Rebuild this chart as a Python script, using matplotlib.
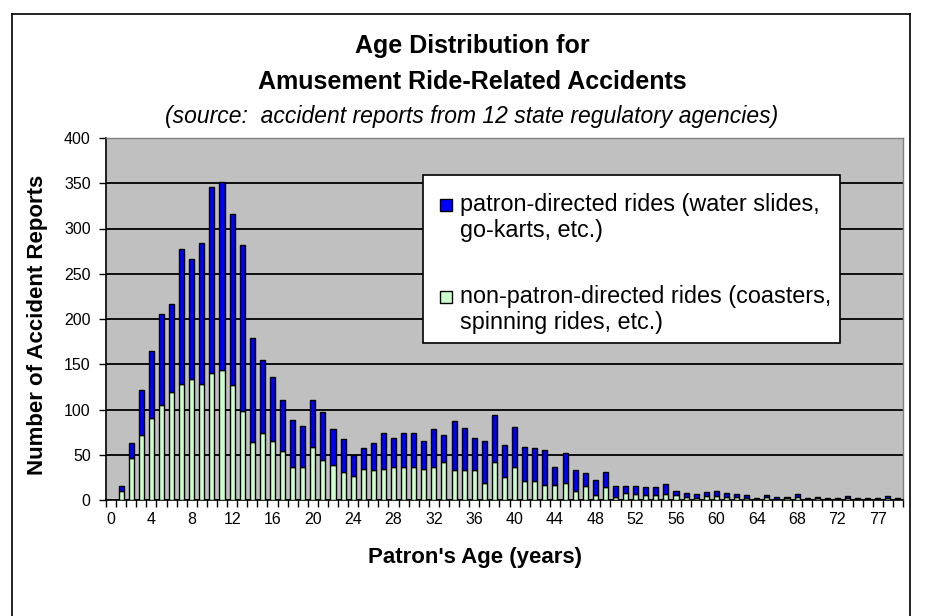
import matplotlib
matplotlib.use("Agg")
import matplotlib.pyplot as plt
from matplotlib.patches import Rectangle
from matplotlib.lines import Line2D
import numpy as np

# ---- data ----
ages = list(range(0, 75)) + [76, 77, 78, 79]
total_reports = [0, 16, 63, 121, 165, 205, 217, 277, 266, 284,
                 346, 351, 316, 282, 179, 155, 136, 110, 88, 82,
                 110, 97, 78, 67, 50, 57, 63, 74, 69, 74,
                 74, 65, 78, 72, 87, 80, 69, 65, 94, 61,
                 81, 59, 57, 55, 37, 52, 33, 30, 22, 31,
                 16, 16, 16, 14, 14, 18, 10, 8, 7, 9,
                 10, 8, 7, 5, 2, 5, 3, 3, 7, 2,
                 3, 2, 2, 4, 2, 2, 2, 4, 2]
non_patron = [0, 10, 46, 72, 91, 105, 119, 128, 134, 128,
              140, 144, 127, 98, 64, 74, 65, 54, 36, 36,
              59, 44, 39, 31, 27, 34, 33, 34, 36, 36,
              36, 34, 36, 42, 33, 33, 33, 19, 42, 25,
              36, 21, 21, 17, 17, 19, 10, 15, 6, 14,
              3, 8, 7, 5, 5, 7, 5, 3, 2, 4,
              4, 3, 3, 2, 1, 3, 1, 2, 3, 1,
              2, 1, 1, 2, 1, 1, 1, 2, 1]
patron = [t - n for t, n in zip(total_reports, non_patron)]

series_names = ["patron-directed rides (water slides,\ngo-karts, etc.)",
                "non-patron-directed rides (coasters,\nspinning rides, etc.)"]
series_colors = ["#0000FF", "#CCFFCC"]
y_ticks = [0, 50, 100, 150, 200, 250, 300, 350, 400]

plt.rcParams['font.family'] = ["Liberation Sans", "DejaVu Sans"]

W, H = 930, 616
fig = plt.figure(figsize=(W / 100, H / 100), dpi=100)
fig.patch.set_facecolor("white")

def fx(px):
    return px / W

def fy(py):
    return 1 - py / H

# outer chart border
for xs, ys in [([12, 12], [14, 700]), ([12, 910], [14, 14]), ([910, 910], [14, 700])]:
    fig.add_artist(Line2D([fx(v) for v in xs], [fy(v) for v in ys], transform=fig.transFigure,
                          color="black", lw=1.2))

left, right, top, bottom = 106, 903, 138, 500
ax = fig.add_axes([fx(left), fy(bottom), (right - left) / W, (bottom - top) / H])
ax.set_facecolor("#C0C0C0")

x = np.arange(len(ages))
bw = 0.5
ax.bar(x, non_patron, width=bw, color=series_colors[1], edgecolor="black", linewidth=1.0, zorder=3)
ax.bar(x, patron, width=bw, bottom=non_patron, color=series_colors[0], edgecolor="black",
       linewidth=1.0, zorder=3)

ax.set_xlim(-0.5, len(ages) - 0.5)
ax.set_ylim(0, 400)
ax.set_yticks(y_ticks)
ax.set_yticklabels([str(v) for v in y_ticks], fontsize=11.5)
ax.yaxis.grid(True, color="black", linewidth=1.3)
ax.set_axisbelow(True)

# category labels every 4th category, tick marks at category boundaries
ax.set_xticks(x[::4])
ax.set_xticklabels([str(ages[i]) for i in x[::4]], fontsize=11.5)
ax.tick_params(axis="x", which="major", length=0, pad=9)
ax.set_xticks(np.arange(-0.5, len(ages)), minor=True)
ax.tick_params(axis="x", which="minor", length=5, width=1, direction="out")
ax.tick_params(axis="y", length=5, width=1, direction="out", pad=6)

for s in ["top", "right"]:
    ax.spines[s].set_color("#808080")
    ax.spines[s].set_linewidth(1)
for s in ["left", "bottom"]:
    ax.spines[s].set_color("black")
    ax.spines[s].set_linewidth(1.2)

fig.text(fx(475), fy(557), "Patron's Age (years)", ha="center", va="center",
         fontsize=16, fontweight="bold")
fig.text(fx(37), fy(325), "Number of Accident Reports", ha="center", va="center", rotation=90,
         fontsize=16, fontweight="bold")

# legend box (drawn as figure artists, above the axes)
fig.add_artist(Rectangle((fx(423), fy(343)), (840 - 423) / W, (343 - 175) / H,
                         transform=fig.transFigure, facecolor="white", edgecolor="black",
                         lw=1.2, zorder=5))
entry_y = [205, 297]
for name, col, ey in zip(series_names, series_colors, entry_y):
    fig.add_artist(Rectangle((fx(440), fy(ey + 6)), 12 / W, 12 / H, transform=fig.transFigure,
                             facecolor=col, edgecolor="black", lw=1.0, zorder=6))
    fig.text(fx(460), fy(ey - 12), name, ha="left", va="top", fontsize=16.8,
             linespacing=1.18, zorder=6)

cx = fx(472)
fig.text(cx, fy(46), "Age Distribution for", ha="center", va="center",
         fontsize=18, fontweight="bold")
fig.text(cx, fy(82), "Amusement Ride-Related Accidents", ha="center",
         va="center", fontsize=18, fontweight="bold")
fig.text(cx, fy(116), "(source:  accident reports from 12 state regulatory agencies)",
         ha="center", va="center", fontsize=16.5, style="italic")

fig.savefig("out.png", dpi=100, facecolor="white")
